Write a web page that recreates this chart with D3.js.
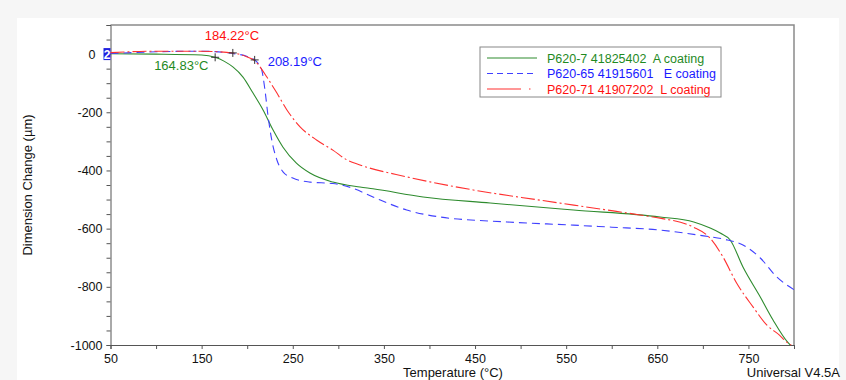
<!DOCTYPE html>
<html><head><meta charset="utf-8">
<script src="https://cdn.jsdelivr.net/npm/d3@7"></script>
<style>body{margin:0;background:#f6f6f6;}svg{display:block;font-family:"Liberation Sans",Arial,sans-serif;}</style>
</head><body><svg id="c" width="846" height="380"></svg>
<script>
const xTicks=[50,150,250,350,450,550,650,750];
const yTicks=[0,-200,-400,-600,-800,-1000];
const seriesNames=["P620-7 41825402  A coating","P620-65 41915601   E coating","P620-71 41907202  L coating"];
const seriesColors=["#2e8b2e","#4040ff","#ff3030"];
const textColors=["#1f8a1f","#1a1aff","#ff1010"];
const greenData=[[50,1],[100,0],[150,-3],[164.83,-11],[175,-25],[184.6,-45],[195.4,-79],[206.4,-134],[217.4,-192],[228.4,-261],[239.3,-320],[254,-375],[268.8,-409],[294,-440],[323.7,-457],[338,-463],[393,-491],[466.6,-512],[558,-536],[653,-560],[690,-577],[708,-598],[719,-615],[730,-639],[744,-732],[763,-835],[777,-914],[793,-990],[796,-1000]];
const blueData=[[50,2],[100,8],[150,10],[184,2],[200,-8],[208.19,-20],[212,-32],[216,-55],[219.5,-124],[223,-216],[227,-296],[232.6,-364],[239.3,-405],[250,-426],[268.8,-440],[294,-445],[315,-460],[338,-491],[375,-536],[411.6,-560],[485,-577],[558,-588],[600,-595],[653,-605],[701,-625],[727,-639],[744,-656],[763,-701],[781,-766],[800,-810]];
const redData=[[50,5],[100,10],[148,10],[184.22,4],[200,-10],[208,-22],[215,-48],[221.6,-79],[232.6,-134],[243.6,-192],[258,-250],[276.5,-296],[294,-330],[309.5,-364],[323.7,-381],[375,-422],[448,-467],[521,-502],[595,-536],[631,-553],[653,-564],[689,-594],[708,-633],[722,-697],[737,-787],[755,-869],[770,-931],[784,-966],[792,-990],[797,-1000]];
const markers=[{t:164.83,v:-11,label:"164.83°C",s:0,dx:-61,dy:13},{t:208.19,v:-20,label:"208.19°C",s:1,dx:13,dy:6},{t:184.22,v:4,label:"184.22°C",s:2,dx:-28,dy:-13}];

const svg=d3.select("#c");
svg.append("rect").attr("x",17).attr("y",18).attr("width",822).attr("height",362).attr("fill","#fff");
const L=110.5,R=794,T=25,B=345;
const x=d3.scaleLinear().domain([50,800]).range([L,R]);
const y=d3.scaleLinear().domain([-1000,100]).range([B,T]);
svg.append("path").attr("d",`M${L},${T}H${R}V${B}`).attr("fill","none").attr("stroke","#8a8a8a").attr("stroke-width",1.5);
const xa=svg.append("g").attr("transform",`translate(0,${B})`).call(d3.axisBottom(x).tickValues(d3.range(50,801,50)).tickSize(4).tickFormat(d=>xTicks.includes(d)?d:""));
const ya=svg.append("g").attr("transform",`translate(${L},0)`).call(d3.axisLeft(y).tickValues(d3.range(-1000,101,50)).tickSize(4).tickFormat(d=>yTicks.includes(d)?d:""));
[xa,ya].forEach(a=>{a.select(".domain").attr("stroke","#555");a.selectAll(".tick line").attr("stroke","#555");a.selectAll("text").attr("font-size",12.5).attr("fill","#111").attr("font-family","Liberation Sans, Arial, sans-serif");});
xa.selectAll("text").attr("dy","0.9em");
ya.selectAll("text").attr("x",-8);
ya.selectAll(".tick").filter(d=>d===0).select("text").attr("x",-15);
svg.append("rect").attr("x",L-7).attr("y",y(0)-6).attr("width",7).attr("height",12).attr("fill","#2020e0");
svg.append("text").attr("x",L-3.5).attr("y",y(0)+4.5).attr("text-anchor","middle").attr("font-size",12).attr("font-weight","bold").attr("fill","#fff").text("2");
svg.append("text").attr("x",453).attr("y",377).attr("text-anchor","middle").attr("font-size",13).attr("fill","#111").text("Temperature (°C)");
svg.append("text").attr("x",840).attr("y",377).attr("text-anchor","end").attr("font-size",13).attr("fill","#111").text("Universal V4.5A");
svg.append("text").attr("transform",`translate(32,${(T+B)/2}) rotate(-90)`).attr("text-anchor","middle").attr("font-size",13).attr("fill","#111").text("Dimension Change (µm)");
const line=d3.line().x(d=>x(d[0])).y(d=>y(d[1])).curve(d3.curveMonotoneX);
const dashes=[null,"8,5","14,3,2,3"];
const g=svg.append("g");
[greenData,blueData,redData].forEach((d,i)=>{
  g.append("path").datum(d).attr("d",line).attr("fill","none").attr("stroke",seriesColors[i]).attr("stroke-width",1.1).attr("stroke-dasharray",dashes[i]);
});
markers.forEach(m=>{
  const px=x(m.t),py=y(m.v);
  g.append("path").attr("d",`M${px-4},${py}H${px+4}M${px},${py-4}V${py+4}`).attr("stroke","#333").attr("stroke-width",1);
  svg.append("text").attr("x",px+m.dx).attr("y",py+m.dy).attr("font-size",13).attr("fill",textColors[m.s]).text(m.label);
});
const lg=svg.append("g");
lg.append("rect").attr("x",480).attr("y",47).attr("width",241).attr("height",50).attr("fill","#fff").attr("stroke","#888");
seriesNames.forEach((n,i)=>{
  const yy=58+i*15.5;
  lg.append("line").attr("x1",487).attr("x2",537).attr("y1",yy).attr("y2",yy).attr("stroke",seriesColors[i]).attr("stroke-width",1.2).attr("stroke-dasharray",i==1?"6,4":(i==2?"34,8,1.5,8":null));
  lg.append("text").attr("x",547).attr("y",yy+4.5).attr("font-size",12.5).attr("fill",textColors[i]).attr("xml:space","preserve").style("white-space","pre").text(n);
});
</script></body></html>
